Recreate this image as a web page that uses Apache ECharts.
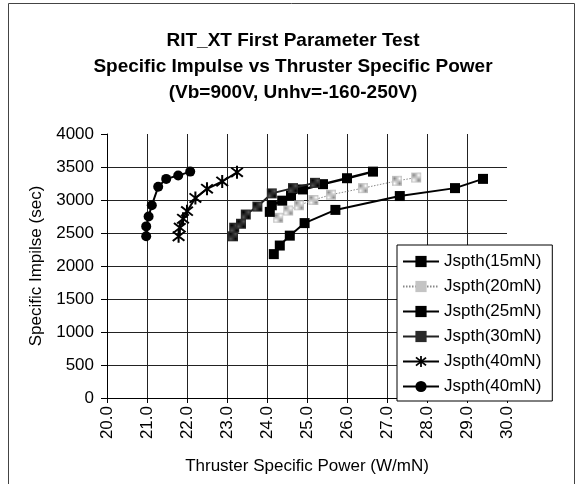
<!DOCTYPE html>
<html>
<head>
<meta charset="utf-8">
<script src="https://cdn.jsdelivr.net/npm/echarts@6/dist/echarts.min.js"></script>
<style>html,body{margin:0;padding:0;background:#fff}#c{width:577px;height:484px}</style>
</head>
<body>
<div id="c"></div>
<script>
// ---- data ----
const titleLines = ['RIT_XT First Parameter Test', 'Specific Impulse vs Thruster Specific Power', '(Vb=900V, Unhv=-160-250V)'];
const xAxisName = 'Thruster Specific Power (W/mN)';
const yAxisName = 'Specific Impilse (sec)';
const xMin = 20, xMax = 30, xStep = 1;
const yMin = 0, yMax = 4000, yStep = 500;
const seriesNames = ['Jspth(15mN)', 'Jspth(20mN)', 'Jspth(25mN)', 'Jspth(30mN)', 'Jspth(40mN)', 'Jspth(40mN)'];

const x15 = [24.17, 24.32, 24.57, 24.94, 25.71, 27.32, 28.70, 29.40];
const y15 = [2180, 2310, 2460, 2650, 2850, 3060, 3180, 3320];
const x20 = [24.28, 24.53, 24.80, 25.16, 25.60, 26.40, 27.25, 27.73];
const y20 = [2730, 2840, 2920, 3000, 3080, 3180, 3290, 3340];
const x25 = [24.07, 24.12, 24.38, 24.60, 24.90, 25.40, 26.00, 26.65];
const y25 = [2820, 2920, 2990, 3070, 3160, 3240, 3330, 3430];
const x30 = [23.15, 23.18, 23.35, 23.47, 23.76, 24.12, 24.65, 25.20];
const y30 = [2450, 2580, 2640, 2780, 2900, 3100, 3180, 3260];
const x40a = [21.79, 21.82, 21.90, 22.00, 22.21, 22.50, 22.88, 23.25];
const y40a = [2450, 2580, 2715, 2830, 3030, 3170, 3280, 3420];
const x40b = [20.98, 20.98, 21.04, 21.12, 21.28, 21.48, 21.78, 22.08];
const y40b = [2450, 2600, 2750, 2920, 3200, 3320, 3370, 3430];

// ---- helpers ----
function pairs(xs, ys) { return xs.map((x, i) => [x, ys[i]]); }
function pattern(bg, fg) {
  const cv = document.createElement('canvas');
  cv.width = 2; cv.height = 2;
  const ctx = cv.getContext('2d');
  ctx.fillStyle = bg; ctx.fillRect(0, 0, 2, 2);
  ctx.fillStyle = fg; ctx.fillRect(0, 0, 1, 1); ctx.fillRect(1, 1, 1, 1);
  return { image: cv, repeat: 'repeat' };
}
const starPath = 'path://M43,0L57,0L57,100L43,100Z' +
  'M14.6,8.7L94.6,78.7L85.4,89.3L5.4,19.3Z' +
  'M94.6,21.3L14.6,91.3L5.4,80.7L85.4,10.7Z';

const FONT = "'Liberation Sans', Arial, sans-serif";
const legendNames = seriesNames.map((n, i) => i === 5 ? n + '\u200b' : n);

const lightPat = pattern('#ffffff', '#8a8a8a');
const darkPat = pattern('#555555', '#000000');

function mk(i, xs, ys, symbol, size, color, line) {
  return {
    name: legendNames[i], type: 'line', data: pairs(xs, ys),
    symbol: symbol, symbolSize: size, showSymbol: true,
    itemStyle: { color: color, borderWidth: 0, opacity: 1 },
    lineStyle: line,
    emphasis: { disabled: true },
    animation: false, z: 3 + i
  };
}

const series = [
  mk(0, x15, y15, 'rect', 10, '#000', { color: '#000', width: 2 }),
  mk(1, x20, y20, 'rect', 10, lightPat, { color: '#888', width: 1, type: [1.5, 1.5] }),
  mk(2, x25, y25, 'rect', 10, '#000', { color: '#000', width: 2.5 }),
  mk(3, x30, y30, 'rect', 10, darkPat, { color: '#222', width: 2 }),
  mk(4, x40a, y40a, starPath, 13, '#000', { color: '#000', width: 2 }),
  mk(5, x40b, y40b, 'circle', 10, '#000', { color: '#000', width: 2 })
];

const nX = Math.round((xMax - xMin) / xStep) + 1;
const nY = Math.round((yMax - yMin) / yStep) + 1;
const xGridColors = Array.from({ length: nX }, (_, i) => i === nX - 1 ? 'rgba(0,0,0,0)' : '#222');
const yGridColors = Array.from({ length: nY }, (_, i) => i === nY - 1 ? 'rgba(0,0,0,0)' : '#222');

const chart = echarts.init(document.getElementById('c'), null, { renderer: 'canvas' });
chart.setOption({
  animation: false,
  backgroundColor: '#fff',
  textStyle: { fontFamily: FONT },
  title: {
    text: titleLines.join('\n'),
    left: 288, textAlign: 'center', top: 23,
    textStyle: { fontFamily: FONT, fontSize: 19, fontWeight: 'bold', color: '#000', lineHeight: 26 }
  },
  graphic: [{
    type: 'rect', shape: { x: 8.5, y: 3.5, width: 566, height: 495 },
    style: { fill: 'none', stroke: '#444', lineWidth: 1 }, silent: true, z: 0
  }],
  grid: { left: 107, right: 70, top: 134, bottom: 86, containLabel: false },
  xAxis: {
    type: 'value', min: xMin, max: xMax, interval: xStep,
    name: xAxisName, nameLocation: 'middle', nameGap: 60,
    nameTextStyle: { fontFamily: FONT, fontSize: 17, color: '#000' },
    axisLine: { show: true, onZero: false, lineStyle: { color: '#000', width: 1 } },
    axisTick: { show: true, inside: false, length: 5, lineStyle: { color: '#000' } },
    axisLabel: { rotate: 90, margin: 8, fontFamily: FONT, fontSize: 17, color: '#000',
      formatter: v => v.toFixed(1) },
    splitLine: { show: true, lineStyle: { color: xGridColors, width: 1 } }
  },
  yAxis: {
    type: 'value', min: yMin, max: yMax, interval: yStep,
    name: yAxisName, nameLocation: 'middle', nameGap: 52, nameRotate: 90,
    nameTextStyle: { fontFamily: FONT, fontSize: 17, color: '#000' },
    axisLine: { show: true, lineStyle: { color: '#000', width: 1 } },
    axisTick: { show: true, inside: false, length: 6, lineStyle: { color: '#000' } },
    axisLabel: { margin: 13, fontFamily: FONT, fontSize: 17, color: '#000',
      formatter: v => String(v) },
    splitLine: { show: true, lineStyle: { color: yGridColors, width: 1 } }
  },
  legend: {
    data: legendNames, orient: 'vertical', left: 397, top: 245,
    padding: [8, 11, 6, 5], itemGap: 8, itemWidth: 36, itemHeight: 14,
    backgroundColor: '#fff', borderColor: '#000', borderWidth: 1, borderRadius: 0,
    textStyle: { fontFamily: FONT, fontSize: 17, color: '#000' },
    selectedMode: false, z: 20
  },
  series: series
});
</script>
</body>
</html>
